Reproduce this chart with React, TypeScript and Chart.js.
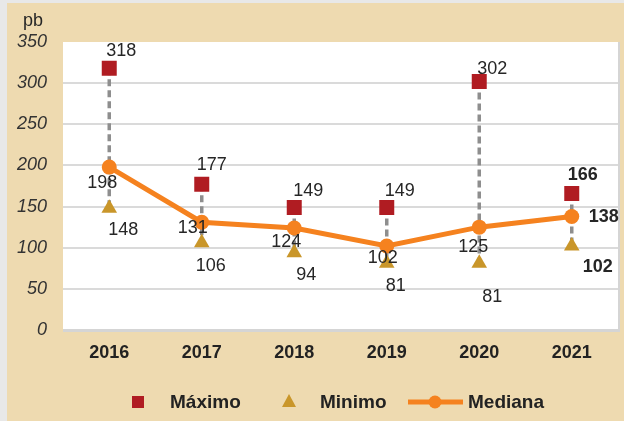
import React, { useEffect, useRef } from "react";
import { Chart, registerables } from "chart.js";

Chart.register(...registerables);

const years = ["2016", "2017", "2018", "2019", "2020", "2021"];
const maximo = [318, 177, 149, 149, 302, 166];
const minimo = [148, 106, 94, 81, 81, 102];
const mediana = [198, 131, 124, 102, 125, 138];
const yTicks = [0, 50, 100, 150, 200, 250, 300, 350];

// label placement offsets (dx, dy) relative to each marker
const maxLabelOffsets = [[12, -17], [10, -19], [14, -16], [13, -16], [13, -12], [11, -18]];
const medLabelOffsets = [[-7, 16], [-9, 6], [-8, 14], [-4, 12], [-6, 20], [32, 1]];
const minLabelOffsets = [[14, 22], [9, 23], [12, 22], [9, 23], [13, 34], [26, 21]];
const boldIndex = 5;

const FONT = "'Liberation Sans', Arial, sans-serif";
const RED = "#B01C22";
const GOLD = "#C9962A";
const ORANGE = "#F5821F";
const BEIGE = "#EEDAB0";
const TEXT = "#262626";

const decorPlugin = {
  id: "decor",
  beforeDraw(chart: any) {
    const { ctx, chartArea: a, width, height } = chart;
    ctx.save();
    ctx.fillStyle = BEIGE;
    ctx.fillRect(0, 0, width, height);
    ctx.fillStyle = "#E8E8E8";
    ctx.fillRect(0, 0, 7, height);
    ctx.fillRect(0, 0, width, 3);
    ctx.fillStyle = "#FFFFFF";
    ctx.fillRect(a.left, a.top, a.right - a.left, a.bottom - a.top);
    ctx.fillStyle = "#D5D5D5";
    ctx.fillRect(a.left, a.bottom - 1, a.right - a.left + 2, 3);
    ctx.fillRect(a.right, a.top, 2, a.bottom - a.top + 2);
    ctx.restore();
  },
  beforeDatasetsDraw(chart: any) {
    const { ctx } = chart;
    const xs = chart.scales.x;
    const ys = chart.scales.y;
    ctx.save();
    ctx.strokeStyle = "#8E8E8E";
    ctx.lineWidth = 3.5;
    ctx.setLineDash([7, 4]);
    for (let i = 0; i < years.length; i++) {
      const x = xs.getPixelForValue(i);
      ctx.beginPath();
      ctx.moveTo(x, ys.getPixelForValue(maximo[i]));
      ctx.lineTo(x, ys.getPixelForValue(minimo[i]));
      ctx.stroke();
    }
    ctx.restore();
  },
  afterDatasetsDraw(chart: any) {
    const { ctx } = chart;
    const sets: [number, number[][]][] = [
      [0, medLabelOffsets],
      [1, maxLabelOffsets],
      [2, minLabelOffsets],
    ];
    ctx.save();
    ctx.fillStyle = TEXT;
    ctx.textAlign = "center";
    ctx.textBaseline = "middle";
    for (const [di, offs] of sets) {
      const meta = chart.getDatasetMeta(di);
      const values = chart.data.datasets[di].data as number[];
      meta.data.forEach((el: any, i: number) => {
        ctx.font = (i === boldIndex ? "bold " : "") + "18px " + FONT;
        ctx.fillText(String(values[i]), el.x + offs[i][0], el.y + offs[i][1]);
      });
    }
    ctx.restore();
  },
  afterDraw(chart: any) {
    const { ctx } = chart;
    ctx.save();
    ctx.fillStyle = TEXT;
    ctx.textAlign = "center";
    ctx.textBaseline = "middle";
    ctx.font = "18px " + FONT;
    ctx.fillText("pb", 33, 21);

    // legend
    const ly = 402;
    ctx.fillStyle = RED;
    ctx.fillRect(132, ly - 6, 12, 12);
    ctx.fillStyle = GOLD;
    ctx.beginPath();
    ctx.moveTo(289, ly - 8);
    ctx.lineTo(296, ly + 5);
    ctx.lineTo(282, ly + 5);
    ctx.closePath();
    ctx.fill();
    ctx.strokeStyle = ORANGE;
    ctx.lineWidth = 5;
    ctx.beginPath();
    ctx.moveTo(408, ly);
    ctx.lineTo(463, ly);
    ctx.stroke();
    ctx.fillStyle = ORANGE;
    ctx.beginPath();
    ctx.arc(435, ly, 6.5, 0, Math.PI * 2);
    ctx.fill();

    ctx.fillStyle = "#222222";
    ctx.textAlign = "left";
    ctx.font = "bold 19px " + FONT;
    ctx.fillText("Máximo", 170, ly + 1);
    ctx.fillText("Minimo", 320, ly + 1);
    ctx.fillText("Mediana", 468, ly + 1);
    ctx.restore();
  },
};

export default function App() {
  const ref = useRef<HTMLCanvasElement>(null);
  useEffect(() => {
    document.body.style.margin = "0";
    const chart = new Chart(ref.current!, {
      type: "line",
      data: {
        labels: years,
        datasets: [
          {
            label: "Mediana",
            data: mediana,
            borderColor: ORANGE,
            backgroundColor: ORANGE,
            borderWidth: 5,
            pointRadius: 7.5,
            pointBackgroundColor: ORANGE,
            pointBorderWidth: 0,
            pointStyle: "circle",
            tension: 0,
          },
          {
            label: "Máximo",
            data: maximo,
            showLine: false,
            pointStyle: "rect",
            pointRadius: 10.6,
            pointBackgroundColor: RED,
            pointBorderColor: RED,
            pointBorderWidth: 0,
            backgroundColor: RED,
            borderColor: RED,
          },
          {
            label: "Minimo",
            data: minimo,
            showLine: false,
            pointStyle: "triangle",
            pointRadius: 9,
            pointBackgroundColor: GOLD,
            pointBorderColor: GOLD,
            pointBorderWidth: 0,
            backgroundColor: GOLD,
            borderColor: GOLD,
          },
        ],
      },
      options: {
        responsive: false,
        animation: false,
        devicePixelRatio: 1,
        layout: { autoPadding: false, padding: { top: 42, right: 6, left: 0, bottom: 0 } },
        plugins: {
          legend: { display: false },
          tooltip: { enabled: false },
        },
        scales: {
          x: {
            offset: true,
            grid: { display: false, drawTicks: false },
            border: { display: false },
            ticks: {
              padding: 12,
              color: "#222222",
              font: { family: FONT, size: 18, weight: "bold" },
            },
            afterFit: (s: any) => {
              s.height = 91;
              s.paddingLeft = 0;
              s.paddingRight = 0;
            },
          },
          y: {
            min: 0,
            max: 350,
            afterBuildTicks: (s: any) => {
              s.ticks = yTicks.map((v) => ({ value: v }));
            },
            grid: {
              drawTicks: false,
              lineWidth: 2,
              color: (c: any) =>
                c.tick && (c.tick.value === 0 || c.tick.value === 350) ? "rgba(0,0,0,0)" : "#DADADA",
            },
            border: { display: false },
            ticks: {
              padding: 16,
              color: "#333333",
              font: { family: FONT, size: 18, style: "italic" },
            },
            afterFit: (s: any) => {
              s.width = 63;
              s.paddingTop = 0;
              s.paddingBottom = 0;
            },
          },
        },
      },
      plugins: [decorPlugin],
    });
    return () => chart.destroy();
  }, []);
  return <canvas ref={ref} width={624} height={421} style={{ display: "block" }} />;
}
